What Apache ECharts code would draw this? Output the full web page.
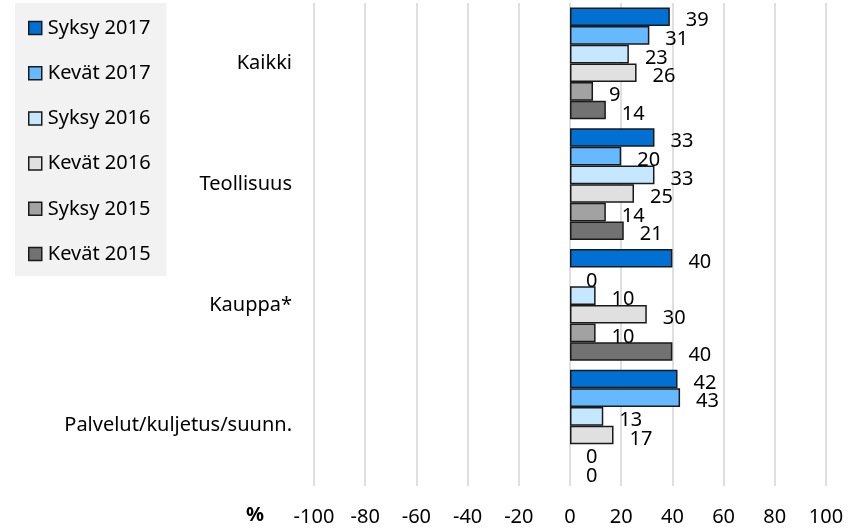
<!DOCTYPE html>
<html>
<head>
<meta charset="utf-8">
<script src="https://cdn.jsdelivr.net/npm/echarts@6/dist/echarts.min.js"></script>
<style>
  html, body { margin: 0; padding: 0; background: #ffffff; }
  #chart { width: 858px; height: 531px; }
</style>
</head>
<body>
<div id="chart"></div>
<script>
// data
const categories = ['Kaikki', 'Teollisuus', 'Kauppa*', 'Palvelut/kuljetus/suunn.']
const seriesNames = ['Syksy 2017', 'Kevät 2017', 'Syksy 2016', 'Kevät 2016', 'Syksy 2015', 'Kevät 2015']
const syksy2017 = [39, 33, 40, 42]
const kevat2017 = [31, 20, 0, 43]
const syksy2016 = [23, 33, 10, 13]
const kevat2016 = [26, 25, 30, 17]
const syksy2015 = [9, 14, 10, 0]
const kevat2015 = [14, 21, 40, 0]
const xTicks = [-100, -80, -60, -40, -20, 0, 20, 40, 60, 80, 100]

const values = [syksy2017, kevat2017, syksy2016, kevat2016, syksy2015, kevat2015]
const colors = ['#0070d2', '#66b9ff', '#c6e8ff', '#e0e0e0', '#a2a2a2', '#727272']
const font = 'Noto Sans'
const fs = 20

const chart = echarts.init(document.getElementById('chart'))

const series = values.map((data, i) => ({
    name: seriesNames[i],
    type: 'bar',
    // 0-arvoille ei reunaviivaa
    data: data.map(v => v === 0 ? { value: v, itemStyle: { borderWidth: 0 } } : v),
    barGap: '0%',
    barCategoryGap: '7.4%',
    itemStyle: {
        color: colors[i],
        borderColor: '#1a1a1a',
        borderWidth: 1.5
    },
    label: {
        show: true,
        position: 'right',
        distance: 16,
        offset: [0, 4],
        color: '#000',
        fontFamily: font,
        fontSize: fs
    }
}))

const option = {
    animation: false,
    color: colors,
    textStyle: { fontFamily: font },
    grid: {
        left: 314,
        right: 32,
        top: 3,
        bottom: 45
    },
    legend: {
        orient: 'vertical',
        left: 15,
        top: 3,
        padding: [15, 16, 12, 13],
        backgroundColor: '#f2f2f2',
        itemWidth: 13,
        itemHeight: 13,
        itemGap: 25.2,
        icon: 'rect',
        itemStyle: { borderColor: '#1a1a1a', borderWidth: 1.5 },
        textStyle: { color: '#000', fontSize: fs, lineHeight: 20, fontFamily: font, padding: [0, 0, 0, 1] },
        data: seriesNames
    },
    xAxis: {
        type: 'value',
        min: xTicks[0],
        max: xTicks[xTicks.length - 1],
        interval: 20,
        axisLine: { show: false },
        axisTick: { show: false },
        axisLabel: {
            color: '#000',
            fontSize: fs,
            fontFamily: font,
            margin: 21
        },
        splitLine: { lineStyle: { color: '#d4d4d4', width: 1.5 } }
    },
    yAxis: {
        type: 'category',
        inverse: true,
        data: categories,
        axisLine: { show: false },
        axisTick: { show: false },
        axisLabel: {
            color: '#000',
            fontSize: fs,
            fontFamily: font,
            margin: 22
        }
    },
    graphic: [{
        type: 'text',
        left: 246,
        top: 505,
        style: {
            text: '%',
            fontSize: fs,
            fontWeight: 'bold',
            fontFamily: font,
            fill: '#000'
        }
    }],
    series: series
}

chart.setOption(option)
window.addEventListener('resize', function() {
    chart.resize()
})
</script>
</body>
</html>
